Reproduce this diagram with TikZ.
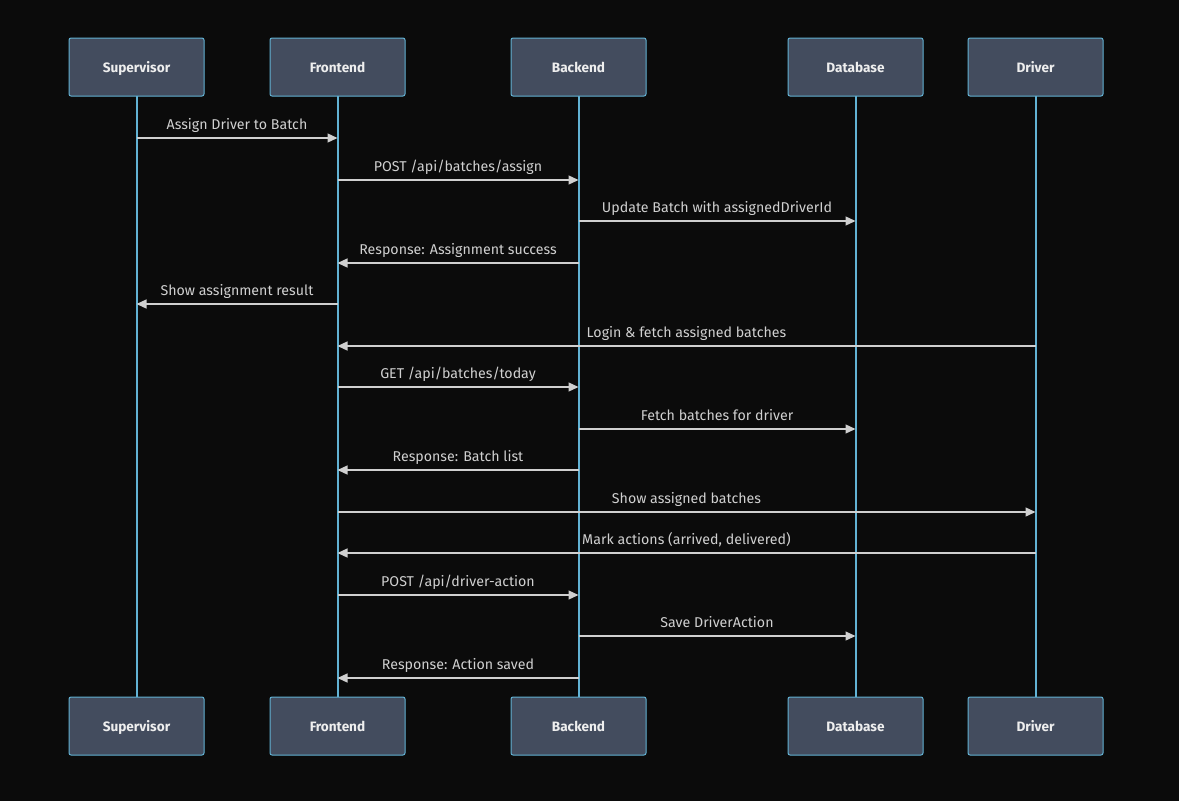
\documentclass[tikz,border=0pt]{standalone}
\usepackage{fontspec}
\setmainfont{Fira Sans}
\usetikzlibrary{arrows.meta,calc}
\definecolor{bg}{HTML}{0B0B0B}
\definecolor{boxfill}{HTML}{434C5E}
\definecolor{boxline}{HTML}{62B2D4}
\definecolor{msg}{HTML}{D0D0D0}
\definecolor{boxtext}{HTML}{EEEEEE}
\begin{document}
\begin{tikzpicture}[x=1pt,y=-1pt,
  actor/.style={draw=boxline, fill=boxfill, line width=1pt, rounded corners=2pt,
    minimum width=135pt, minimum height=58pt, inner sep=0pt,
    text height=10pt, text depth=0pt,
    text=boxtext, font=\fontsize{13.6}{15}\selectfont\bfseries},
  life/.style={draw=boxline, line width=2pt},
  call/.style={draw=msg, line width=1.3pt, -{Triangle[length=10pt,width=9pt]}},
  lbl/.style={text=msg, font=\fontsize{14.2}{16}\selectfont, inner sep=0pt, anchor=base}]
\fill[bg] (0,0) rectangle (1179,801);
\useasboundingbox (0,0) rectangle (1179,801);

% participants with lifelines, top and bottom
\foreach \n/\t/\x in {sup/Supervisor/136.5, fe/Frontend/337.5, be/Backend/578.5, db/Database/855.5, dr/Driver/1035.5}{
  \draw[life] (\x,96) -- (\x,697);
  \node[actor] (\n-top) at (\x,67) {\t};
  \node[actor] (\n-bot) at (\x,726) {\t};
}

% messages: from, to, y, label
\foreach \a/\b/\y/\t in {
  sup/fe/138/{Assign Driver to Batch},
  fe/be/180/{POST /api/batches/assign},
  be/db/221/{Update Batch with assignedDriverId},
  be/fe/263/{Response: Assignment success},
  fe/sup/304/{Show assignment result},
  dr/fe/346/{Login \& fetch assigned batches},
  fe/be/387/{GET /api/batches/today},
  be/db/429/{Fetch batches for driver},
  be/fe/470/{Response: Batch list},
  fe/dr/512/{Show assigned batches},
  dr/fe/553/{Mark actions (arrived, delivered)},
  fe/be/595/{POST /api/driver-action},
  be/db/636/{Save DriverAction},
  be/fe/678/{Response: Action saved}}{
  \coordinate (s) at (\a-top.south |- 0,\y);
  \coordinate (e) at (\b-top.south |- 0,\y);
  \draw[call] (s) -- (e);
  \node[lbl] at ($ (s)!0.5!(e) + (0,-9) $) {\t};
}
\end{tikzpicture}
\end{document}
